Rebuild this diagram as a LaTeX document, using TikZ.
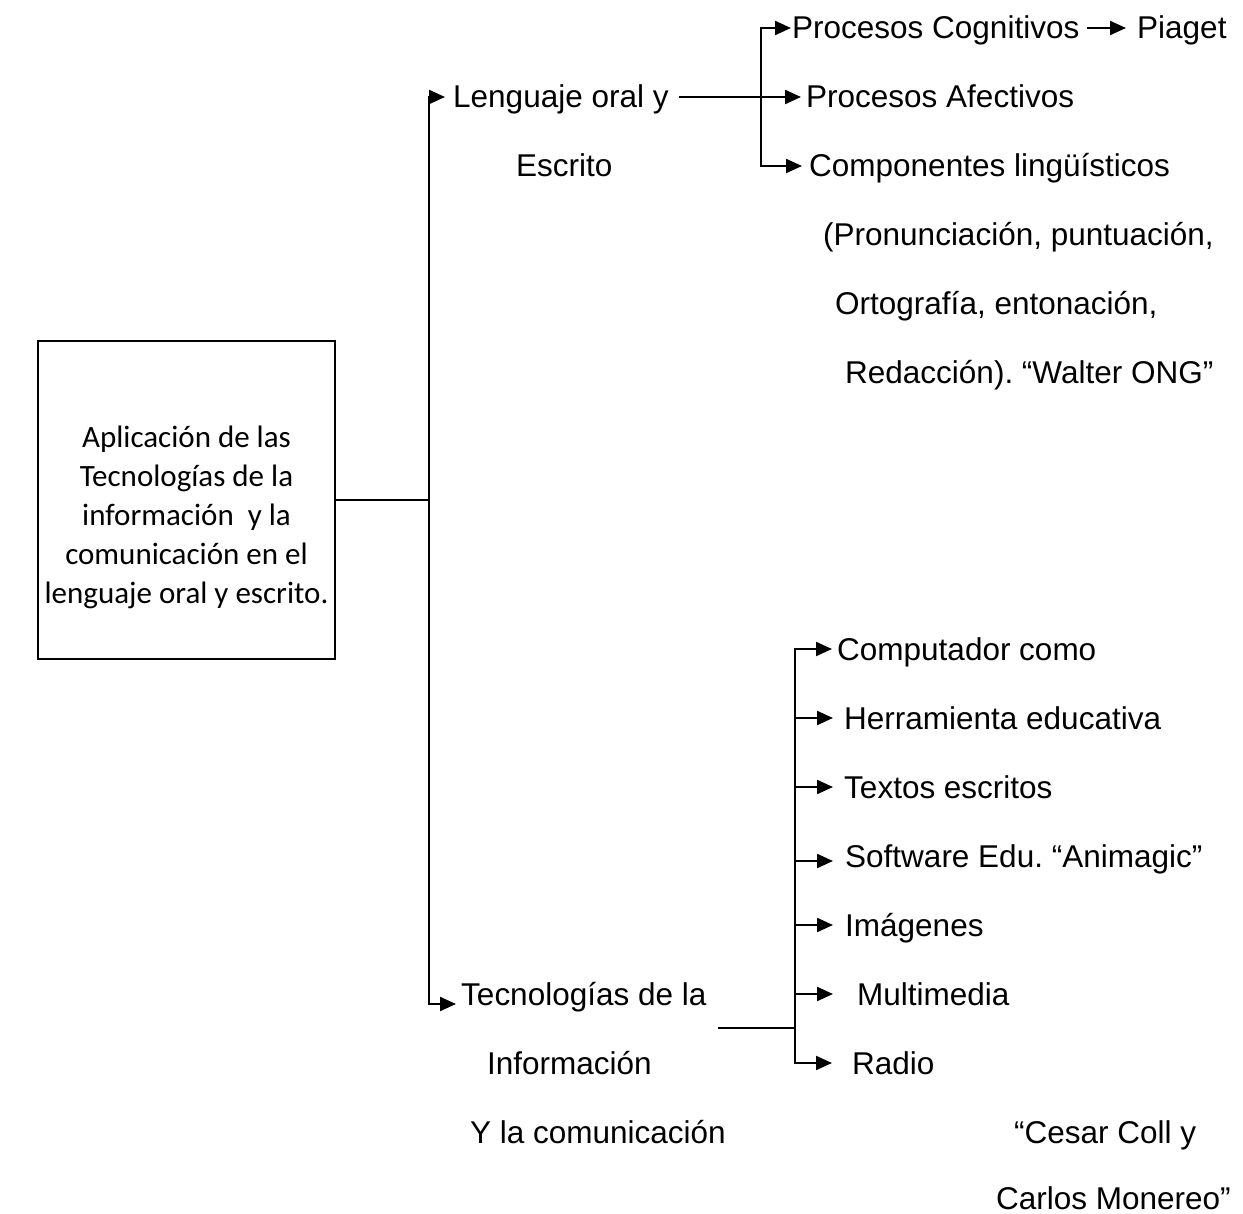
\documentclass[tikz,border=0pt]{standalone}
\usepackage{fontspec}
\setmainfont{Liberation Sans}
\newfontfamily\calib{Carlito}
\usetikzlibrary{arrows.meta}
\frenchspacing
\begin{document}
\begin{tikzpicture}[x=1pt,y=-1pt,
  ln/.style={line width=2.2pt,draw=black},
  arr/.style={ln,-{Triangle[length=16pt,width=14pt]}},
  txt/.style={anchor=west,inner sep=0pt,text height=22pt,text depth=0pt,font=\frenchspacing\fontsize{31.5}{38}\selectfont},
  boxline/.style={draw=black,line width=2.4pt,minimum width=297pt,minimum height=318pt,inner sep=0pt},
  boxtext/.style={align=center,inner sep=0pt,font=\calib\fontsize{31}{39}\selectfont}
]
\useasboundingbox (0,0) rectangle (1243,1214);
\fill[white] (0,0) rectangle (1243,1214);

% root box
\node[boxline] (root) at (186.5,500) {};
\node[boxtext] (roottext) at (186.5,517) {Aplicación de las\\Tecnologías de la\\información\ \ y la\\comunicación en el\\lenguaje oral y escrito.};

% level 1
\node[txt] (lo) at (453,97) {Lenguaje oral y};
\node[txt] (escrito) at (516,166) {Escrito};
\node[txt] (tec) at (461,994) {Tecnologías de la};
\node[txt] (info) at (487,1063) {Información};
\node[txt] (ylacom) at (470,1132) {Y la comunicación};

% upper branch
\node[txt] (pcog) at (792,28) {Procesos Cognitivos};
\node[txt] (piaget) at (1137,28) {Piaget};
\node[txt] (pafe) at (806,97) {Procesos Afectivos};
\node[txt] (comp) at (809,166) {Componentes lingüísticos};
\node[txt] (pron) at (823,235) {(Pronunciación, puntuación,};
\node[txt] (orto) at (835,304) {Ortografía, entonación,};
\node[txt] (redac) at (845,373) {Redacción). “Walter ONG”};

% lower branch
\node[txt] (compu) at (837,649) {Computador como};
\node[txt] (herr) at (844,718) {Herramienta educativa};
\node[txt] (textos) at (844,787) {Textos escritos};
\node[txt] (soft) at (845,856) {Software Edu. “Animagic”};
\node[txt] (imag) at (845,925) {Imágenes};
\node[txt] (multi) at (857,994) {Multimedia};
\node[txt] (radio) at (852,1063) {Radio};
\node[txt] (cesar) at (1014,1132) {“Cesar Coll y};
\node[txt] (carlos) at (996,1198) {Carlos Monereo”};

% trunk
\coordinate (jn) at (429,500);
\draw[ln] (root.east) -- (jn);
\draw[arr,shorten >=8pt] (jn) |- (lo.west);
\draw[arr,shorten >=5pt] (jn) |- ([yshift=-10pt]tec.west);

% upper connectors
\coordinate (b1) at (761,97);
\draw[arr,shorten <=10pt,shorten >=5pt] (lo.east) -- (pafe.west);
\draw[arr,shorten >=1pt] (b1) |- (pcog.west);
\draw[arr,shorten >=7pt] (b1) |- (comp.west);
\draw[arr,shorten <=7pt,shorten >=11pt] (pcog.east) -- (piaget.west);

% lower connectors
\coordinate (b2) at (795,1028);
\coordinate (tecout) at (718,1028);
\draw[ln] (tecout) -- (b2);
\draw[arr,shorten >=5pt] (b2) |- (compu.west);
\draw[arr,shorten >=11pt] (b2) |- (herr.west);
\draw[arr,shorten >=11pt] (b2) |- (textos.west);
\draw[arr,shorten >=12pt] (b2) |- ([yshift=-5pt]soft.west);
\draw[arr,shorten >=12pt] (b2) |- (imag.west);
\draw[arr,shorten >=24pt] (b2) |- (multi.west);
\draw[arr,shorten >=20pt] (b2) |- (radio.west);
\end{tikzpicture}
\end{document}
